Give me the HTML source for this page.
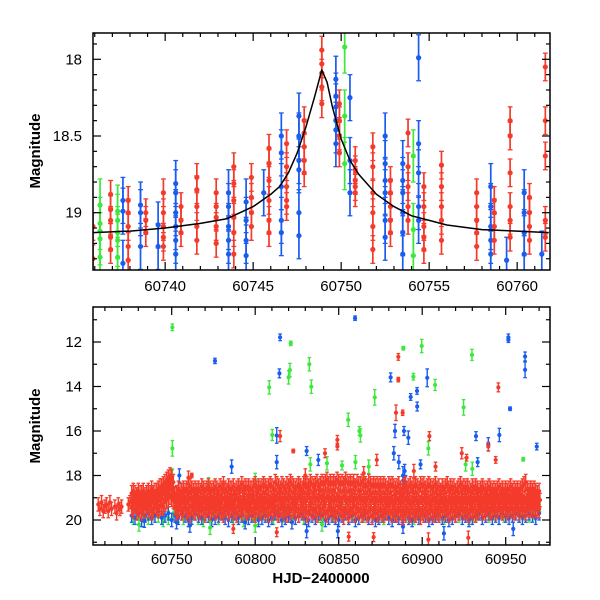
<!DOCTYPE html>
<html><head><meta charset="utf-8"><title>Light curve</title>
<style>
html,body{margin:0;padding:0;background:#fff;}
svg{display:block;font-family:"Liberation Sans",sans-serif;}
</style></head>
<body>
<svg id="chart" width="600" height="600" viewBox="0 0 600 600">
<defs>
<clipPath id="clipTop"><rect x="93" y="33" width="457" height="237"/></clipPath>
<clipPath id="clipBot"><rect x="93" y="307" width="457" height="238"/></clipPath>
</defs>
<g id="topMarks" clip-path="url(#clipTop)"></g>
<g id="botMarks" clip-path="url(#clipBot)"></g>
<g id="axes"></g>
<text x="0" y="0" transform="translate(40,151) rotate(-90)" text-anchor="middle" font-size="15" font-weight="bold">Magnitude</text>
<text x="0" y="0" transform="translate(40,426) rotate(-90)" text-anchor="middle" font-size="15" font-weight="bold">Magnitude</text>
<text x="321" y="583" text-anchor="middle" font-size="15" font-weight="bold">HJD−2400000</text>
</svg>
<script>
// ---------- TOP PANEL DATA (zoom on event) ----------
const topRedT = [60735.9,60736.9,60737.9,60738.9,60739.9,60740.9,60741.8,60742.9,60743.9,60744.9,60745.9,60746.9,60747.9,60748.9,60749.9,60750.8,60751.8,60752.8,60753.8,60754.7,60755.7,60757.7,60758.7,60759.6,60760.7,60761.6];
const topRedM = [[19.09,19.30],[18.88,18.98,19.05,19.16,19.24],[18.92,19.0,19.09,19.22,19.31],[19.0,19.05,19.13],[18.87,19.0,19.09,19.16,19.22],[18.96,19.05,19.13],[18.77,18.85,18.96,19.09,19.18],[18.87,18.96,19.03,19.09,19.2],[18.7,18.81,18.92,19.03,19.13,19.27],[18.77,18.9,19.0,19.09],[18.58,18.68,18.79,18.92,19.05,19.13],[18.55,18.7,18.83,18.92,18.96],[18.4,18.48,18.57,18.66,18.74],[17.94,18.03,18.09,18.18,18.29],[18.29,18.4,18.5,18.61],[18.66,18.72,18.79,18.83,18.87],[18.57,18.7,18.87,19.0,19.09,19.24],[18.79,18.87,18.96,19.05,19.13],[18.48,18.7,18.83,18.96,19.05],[18.83,18.96,19.09,19.16,19.24],[18.69,18.83,18.96,19.05,19.18],[18.87,18.96,19.05,19.13,19.22],[18.92,19.0,19.09,19.18],[18.4,18.5,18.74,18.96,19.05,19.16],[18.9,19.0,19.09,19.18],[18.05,18.4,18.63,19.05,19.16]];
const topBlueT = [60737.6,60738.6,60739.6,60740.6,60743.6,60744.6,60745.6,60746.6,60747.6,60749.7,60750.5,60752.5,60753.5,60754.4,60758.5,60759.4,60760.4,60761.4];
const topBlueM = [[18.92,18.99,19.33],[18.95,19.0,19.22],[19.08,19.22],[18.81,18.87,19.0,19.09,19.18,19.27],[18.87,18.96,19.09,19.18,19.27],[18.93,19.05,19.18,19.28],[18.87],[18.5,18.61,18.83,19.05,19.13],[18.37,18.5,18.66,18.72,19.0,19.15],[18.13,18.24,18.31,18.4,18.46,18.55],[18.25,18.66,18.87],[18.5,18.68,18.79,18.87,19.05,19.16],[18.68,18.79,18.87,19.0,19.13,19.27],[17.99,18.55,18.74,18.96,19.05],[18.83,18.96,19.09,19.18,19.27],[19.31],[18.87,19.0,19.13,19.27],[19.27]];
const topGreenT = [60736.3,60737.3,60750.2,60754.1];
const topGreenM = [[18.95,19.07,19.12,19.17,19.29],[18.99,19.05,19.13,19.18,19.29],[17.92,18.37,18.68],[18.63,19.11,19.28]];
const topErr = [0.09,0.15,0.17]; // red, blue, green typical errors
const modelT = [60735.9,60738,60740,60742,60743.5,60745,60746,60746.5,60747,60747.5,60748,60748.5,60748.9,60749.2,60749.5,60750,60750.5,60751,60752,60753,60754,60755,60756,60758,60760,60761.8];
const modelM = [19.13,19.12,19.10,19.07,19.04,18.96,18.88,18.83,18.74,18.61,18.44,18.24,18.07,18.15,18.31,18.52,18.66,18.75,18.88,18.96,19.02,19.05,19.08,19.11,19.12,19.13];

// ---------- BOTTOM PANEL DATA (full season) ----------
const bandStart = 60726; // first night of dense red band, one night per entry
const redBandA = [18.8,18.7,18.8,18.9,18.7,18.8,18.8,18.7,18.9,18.8,18.7,18.8,18.6,18.8,18.7,18.7,18.6,18.5,18.5,18.4,18.3,18.2,18.1,18.0,18.1,18.3,18.9,18.8,18.6,18.7,18.7,18.6,18.7,18.6,18.7,18.5,18.6,18.7,18.6,18.7,18.6,18.7,18.5,18.6,18.7,18.6,18.5,18.6,18.7,18.6,18.5,18.6,18.7,18.5,18.6,18.4,18.6,18.7,18.5,18.6,18.6,18.5,18.7,18.6,18.5,18.6,18.4,18.6,18.5,18.6,18.5,18.6,18.6,18.5,18.4,18.6,18.5,18.6,18.5,18.4,18.5,18.6,18.5,18.4,18.5,18.6,18.3,18.4,18.5,18.6,18.4,18.5,18.6,18.4,18.5,18.3,18.4,18.5,18.6,18.5,18.4,18.5,18.6,18.4,18.5,18.4,18.5,18.3,18.4,18.5,18.4,18.3,18.5,18.4,18.3,18.4,18.3,18.2,18.4,18.3,18.4,18.3,18.4,18.2,18.3,18.4,18.3,18.4,18.2,18.3,18.4,18.3,18.4,18.3,18.5,18.3,18.4,18.4,18.3,18.5,18.4,18.5,18.3,18.4,18.5,18.4,18.5,18.4,18.5,18.4,18.5,18.4,18.5,18.6,18.4,18.5,18.4,18.5,18.6,18.5,18.4,18.6,18.7,18.5,18.4,18.6,18.5,18.4,18.6,18.5,18.4,18.5,18.6,18.4,18.5,18.4,18.6,18.5,18.4,18.5,18.6,18.5,18.4,18.6,18.5,18.7,18.5,18.6,18.5,18.4,18.6,18.5,18.6,18.5,18.7,18.6,18.5,18.4,18.6,18.5,18.6,18.5,18.6,18.7,18.5,18.6,18.5,18.6,18.7,18.6,18.5,18.6,18.7,18.6,18.5,18.6,18.7,18.6,18.7,18.6,18.5,18.7,18.6,18.7,18.6,18.7,18.6,18.5,18.7,18.6,18.7,18.6,18.7,18.6,18.5,18.4,18.3,18.6,18.7,18.6,18.7,18.6,18.7,18.8,18.7];
const redBandB = [19.4,19.5,19.3,19.6,19.4,19.5,19.6,19.4,19.5,19.3,19.5,19.4,19.6,19.5,19.3,19.4,19.5,19.4,19.3,19.4,19.2,19.1,19.0,18.9,19.0,19.1,19.4,19.6,19.5,19.4,19.6,19.5,19.4,19.6,19.5,19.7,19.4,19.5,19.6,19.4,19.5,19.6,19.4,19.5,19.7,19.5,19.4,19.6,19.5,19.4,19.6,19.5,19.4,19.6,19.5,19.7,19.5,19.4,19.6,19.5,19.4,19.6,19.5,19.7,19.4,19.5,19.6,19.4,19.5,19.6,19.5,19.4,19.6,19.5,19.7,19.5,19.4,19.6,19.5,19.4,19.6,19.5,19.7,19.4,19.6,19.5,19.4,19.6,19.7,19.5,19.4,19.6,19.5,19.7,19.4,19.6,19.5,19.4,19.6,19.5,19.7,19.5,19.4,19.6,19.5,19.7,19.6,19.4,19.5,19.6,19.5,19.7,19.4,19.6,19.5,19.4,19.6,19.7,19.5,19.4,19.6,19.5,19.7,19.6,19.4,19.5,19.6,19.8,19.5,19.6,19.7,19.5,19.6,19.4,19.7,19.5,19.6,19.5,19.7,19.6,19.5,19.7,19.6,19.5,19.8,19.6,19.5,19.7,19.6,19.5,19.6,19.7,19.5,19.6,19.4,19.6,19.7,19.5,19.6,19.7,19.5,19.6,19.8,19.6,19.7,19.5,19.6,19.7,19.5,19.6,19.7,19.6,19.5,19.8,19.6,19.7,19.5,19.6,19.7,19.5,19.6,19.7,19.5,19.6,19.7,19.5,19.6,19.4,19.6,19.5,19.7,19.6,19.5,19.6,19.7,19.5,19.6,19.4,19.5,19.6,19.5,19.6,19.7,19.5,19.6,19.5,19.7,19.6,19.5,19.4,19.6,19.5,19.6,19.4,19.5,19.6,19.5,19.4,19.6,19.5,19.4,19.5,19.6,19.5,19.4,19.6,19.5,19.4,19.5,19.6,19.5,19.4,19.6,19.5,19.4,19.5,19.6,19.4,19.5,19.4,19.5,19.4,19.5,19.4,19.5];
const redBandC = [19.1,19.0,19.2,19.1,19.0,19.1,19.2,19.0,19.1,19.2,19.0,19.1,19.0,19.2,19.1,19.0,18.9,18.9,18.8,18.8,18.7,18.6,18.5,18.4,18.6,18.8,19.2,19.1,19.0,19.1,19.0,19.1,19.2,19.0,19.1,19.0,19.2,19.1,19.0,19.1,19.2,19.0,19.1,19.0,19.2,19.1,19.0,19.1,19.2,19.0,19.1,19.0,19.2,19.1,19.0,19.1,19.2,19.0,19.1,19.0,19.2,19.1,19.0,19.1,19.0,19.2,19.1,19.0,19.1,19.2,19.0,19.1,19.0,19.2,19.1,19.0,19.1,19.2,19.0,19.1,19.0,19.1,19.2,19.0,19.1,19.0,18.9,19.1,19.0,19.1,19.0,19.1,19.0,19.1,18.9,19.0,19.1,19.0,19.1,19.0,18.9,19.0,19.1,19.0,19.1,18.9,19.0,19.1,19.0,18.9,19.0,19.1,18.9,19.0,18.9,19.1,19.0,18.9,19.0,19.1,18.9,19.0,19.1,18.9,19.0,19.1,19.0,18.9,19.0,19.1,19.0,18.9,19.1,19.0,19.1,19.0,18.9,19.0,19.1,19.0,19.1,19.0,18.9,19.1,19.0,19.1,19.0,19.1,18.9,19.0,19.1,19.0,19.1,19.0,19.1,19.0,19.2,19.1,19.0,19.1,19.0,19.1,19.2,19.0,19.1,19.0,19.1,19.2,19.0,19.1,19.0,19.1,19.2,19.0,19.1,19.0,19.1,19.0,19.2,19.1,19.0,19.1,19.0,19.2,19.1,19.0,19.1,19.0,19.1,19.2,19.0,19.1,19.0,19.1,19.2,19.0,19.1,19.0,19.1,19.0,19.1,19.0,19.2,19.1,19.0,19.1,19.0,19.1,19.2,19.0,19.1,19.0,19.1,19.2,19.0,19.1,19.0,19.1,19.0,19.1,19.2,19.0,19.1,19.0,19.1,19.0,19.1,19.2,19.0,19.1,19.0,19.1,19.0,19.1,19.2,19.0,19.1,19.0,19.1,19.0,19.1,19.0,19.1,19.0,19.1];
const blueBandStart = 60726; // every 2 nights
const blueBand = [19.8,19.9,19.7,20.0,19.8,19.7,19.9,19.8,19.6,19.9,19.8,19.7,20.0,19.8,19.9,19.7,19.8,20.0,19.9,19.7,19.8,19.9,19.7,19.8,20.0,19.9,19.8,19.7,19.9,20.0,19.8,19.7,19.9,19.8,20.1,19.9,19.8,19.7,20.0,19.9,19.8,20.0,19.9,19.7,19.8,20.0,19.9,19.8,20.1,19.9,19.8,19.7,19.9,20.0,19.8,19.9,19.7,19.8,20.0,19.9,19.8,19.9,20.0,19.8,19.7,19.9,19.8,20.0,19.9,19.8,19.7,19.9,19.8,20.0,19.9,19.8,19.7,19.9,20.0,19.8,19.9,19.8,19.7,19.9,20.0,19.8,19.9,19.7,19.8,20.0,19.9,19.8,19.7,19.9,19.8,20.0,19.9,19.8,19.7,19.9,19.8,20.0,19.9,19.8,19.7,19.9,19.8,19.7,19.9,19.8,19.9,19.7,19.8,19.9,19.8,19.7,19.8,19.9,19.8,19.7,19.8,19.9,19.7];
const greenBandStart = 60727; // every 3 nights
const greenBand = [19.9,19.7,19.8,19.9,19.7,19.8,20.0,19.9,19.7,19.8,19.9,19.8,19.7,19.9,20.0,19.8,19.7,19.9,19.8,19.7,19.9,19.8,20.0,19.7,19.8,19.9,19.7,19.8,19.9,19.7,19.8,19.6,19.7,19.8,19.9,19.7,19.6,19.8,19.7,19.9,19.8,19.7,19.6,19.8,19.7,19.9,19.8,19.6,19.7,19.8,19.9,19.7,19.8,19.6,19.7,19.8,19.9,19.7,19.8,19.6,19.7,19.8,19.9,19.7,19.6,19.8,19.7,19.9,19.8,19.7,19.6,19.8,19.7,19.9,19.8,19.7,19.6,19.8,19.7,19.8,19.7,19.6];
// individual points (early season + outliers)
const botRedT = [60706,60707,60708,60709,60710,60711,60712,60713,60714,60716,60717,60718,60719,60720,60724,60725,60885.7,60885.7,60884.3,60888.3,60945.6,60814.9,60822.8,60849.2,60849.2,60841.8,60904.3,60923.7,60939.6,60944,60926.6,60872.8,60762,60908,60812.9,60903.7,60927.6,60870.9,60856,60786.9,60830,60865,60895,60760];
const botRedM = [19.3,19.5,19.2,19.6,19.4,19.3,19.6,19.2,19.5,19.4,19.7,19.3,19.5,19.4,19.3,19.2,12.67,13.69,15.18,15.18,14.04,16.23,16.9,16.4,16.7,17.0,16.23,17.0,16.7,17.3,17.2,17.3,18.0,17.6,20.55,20.88,20.8,20.77,20.75,20.4,18.0,17.9,17.8,18.1];
const botRedE = [0.3,0.3,0.3,0.3,0.3,0.3,0.3,0.3,0.3,0.3,0.3,0.3,0.3,0.3,0.3,0.3,0.15,0.1,0.35,0.12,0.2,0.25,0.08,0.2,0.15,0.2,0.2,0.25,0.2,0.15,0.15,0.25,0.1,0.2,0.2,0.3,0.3,0.2,0.2,0.2,0.3,0.3,0.3,0.3];
const botBlueT = [60775.9,60814.9,60814.5,60812.9,60859.8,60881.1,60903,60896.9,60893.1,60897,60951.6,60951.6,60961.6,60961.6,60952.6,60946.2,60932.2,60968.6,60830.8,60837.8,60883.7,60889.1,60891.7,60883,60886,60899,60939.6,60933.2,60754.6,60785.9,60812.9,60888.5,60888.5,60888.5,60888.5,60888.5,60733.6,60752.9,60760.9,60830.8,60849.5,60913,60954.5,60889.5,60890];
const botBlueM = [12.85,11.79,13.41,16.2,10.93,13.59,13.61,14.2,14.47,14.9,11.79,11.9,12.65,13.25,15.0,16.18,16.23,16.7,16.9,17.3,16.0,16.0,16.3,17.0,17.4,17.5,16.6,17.4,18.0,17.6,17.4,18.0,18.6,19.2,19.8,20.3,20.03,20.1,20.25,20.5,20.5,20.6,20.4,17.8,18.3];
const botBlueE = [0.12,0.15,0.2,0.35,0.1,0.2,0.4,0.15,0.15,0.2,0.15,0.12,0.2,0.35,0.08,0.3,0.2,0.15,0.2,0.25,0.3,0.2,0.3,0.3,0.3,0.2,0.3,0.2,0.3,0.3,0.3,0.4,0.4,0.4,0.4,0.3,0.3,0.3,0.3,0.3,0.3,0.3,0.3,0.3,0.3];
const botGreenT = [60750.4,60750.4,60808.4,60810.2,60821.3,60820.8,60820,60832.4,60833.6,60888.7,60899.7,60894.7,60907.7,60871.6,60855.7,60862.4,60863,60929.8,60924.8,60903.7,60960.5,60852,60860,60868,60833,60843,60926,60930,60730.4,60773,60800,60840,60750.4,60772,60800];
const botGreenM = [11.34,16.78,14.04,16.18,12.06,13.26,13.59,13.0,14.01,12.28,12.18,13.56,13.93,14.49,15.5,16.0,16.2,12.58,14.94,16.78,17.27,17.55,17.4,17.6,17.5,17.45,17.5,17.7,20.2,20.35,20.25,20.2,18.0,18.4,18.2];
const botGreenE = [0.15,0.35,0.3,0.25,0.1,0.3,0.3,0.3,0.3,0.08,0.3,0.15,0.25,0.35,0.3,0.2,0.3,0.25,0.35,0.3,0.08,0.2,0.3,0.3,0.3,0.3,0.3,0.3,0.3,0.3,0.3,0.3,0.3,0.3,0.3];

// ---------- AXIS FUNCTIONS ----------
const xT = t => 93 + (t - 60735.9) * 17.6;
const yT = m => 59.3 + (m - 18) * 153.4;
const xB = t => 171.7 + (t - 60750) * 1.67;
const yB = m => 342 + (m - 12) * 22.25;

const NS = 'http://www.w3.org/2000/svg';
const COL = {red:'#f43b2b', blue:'#1a5cf0', green:'#3de83d'};

function mk(tag, attrs, parent){
  const el = document.createElementNS(NS, tag);
  for (const k in attrs) el.setAttribute(k, attrs[k]);
  parent.appendChild(el);
  return el;
}

function errPoint(parent, px, py, pyLo, pyHi, color, r, cap, sw, name){
  const g = document.createElementNS(NS, 'g');
  
  
  mk('line', {x1:px, x2:px, y1:pyLo, y2:pyHi, stroke:color, 'stroke-width':sw}, g);
  mk('line', {x1:px-cap, x2:px+cap, y1:pyLo, y2:pyLo, stroke:color, 'stroke-width':1.3}, g);
  mk('line', {x1:px-cap, x2:px+cap, y1:pyHi, y2:pyHi, stroke:color, 'stroke-width':1.3}, g);
  mk('circle', {cx:px, cy:py, r:r, fill:color}, g);
  parent.appendChild(g);
}

// ---------- TOP PANEL MARKS ----------
const topG = document.getElementById('topMarks');
function drawTop(Ts, Ms, err, color, name){
  Ts.forEach((t, i) => {
    Ms[i].forEach(m => {
      errPoint(topG, xT(t), yT(m), yT(m - err), yT(m + err), color, 2.6, 2.4, 1.7, name);
    });
  });
}
drawTop(topGreenT, topGreenM, topErr[2], COL.green, 'top-green-point');
drawTop(topBlueT, topBlueM, topErr[1], COL.blue, 'top-blue-point');
drawTop(topRedT, topRedM, topErr[0], COL.red, 'top-red-point');
const modelPath = document.createElementNS(NS, 'polyline');


modelPath.setAttribute('points', modelT.map((t, i) => xT(t).toFixed(1) + ',' + yT(modelM[i]).toFixed(1)).join(' '));
modelPath.setAttribute('fill', 'none');
modelPath.setAttribute('stroke', '#000');
modelPath.setAttribute('stroke-width', '1.5');
modelPath.setAttribute('stroke-linejoin', 'round');
topG.appendChild(modelPath);

// ---------- BOTTOM PANEL MARKS ----------
const botG = document.getElementById('botMarks');
function bp(t, m, e, color, name){
  errPoint(botG, xB(t), yB(m), yB(m - e), yB(m + e), color, 2.1, 1.8, 1.4, name);
}
greenBand.forEach((m, i) => bp(greenBandStart + 3 * i, m, 0.3, COL.green, 'green-band-point'));
blueBand.forEach((m, i) => bp(blueBandStart + 2 * i, m, 0.3, COL.blue, 'blue-band-point'));
botGreenT.forEach((t, i) => bp(t, botGreenM[i], botGreenE[i], COL.green, 'green-point'));
botBlueT.forEach((t, i) => bp(t, botBlueM[i], botBlueE[i], COL.blue, 'blue-point'));
redBandB.forEach((m, i) => bp(bandStart + i, m, 0.4, COL.red, 'red-band-point'));
redBandA.forEach((m, i) => bp(bandStart + i, m, 0.35, COL.red, 'red-band-point'));
redBandC.forEach((m, i) => bp(bandStart + i + 0.5, m, 0.3, COL.red, 'red-band-point'));
botRedT.forEach((t, i) => bp(t, botRedM[i], botRedE[i], COL.red, 'red-point'));

// ---------- AXES ----------
const ax = document.getElementById('axes');
function frame(x0, y0, x1, y1, name){
  const r = document.createElementNS(NS, 'rect');
  
  
  r.setAttribute('x', x0); r.setAttribute('y', y0);
  r.setAttribute('width', x1 - x0); r.setAttribute('height', y1 - y0);
  r.setAttribute('fill', 'none'); r.setAttribute('stroke', '#000'); r.setAttribute('stroke-width', '1.5');
  ax.appendChild(r);
}
function tick(x1, y1, x2, y2){
  mk('line', {x1, y1, x2, y2, stroke:'#000', 'stroke-width':1.2}, ax);
}
function label(x, y, txt, anchor, name){
  const t = document.createElementNS(NS, 'text');
  
  
  t.setAttribute('x', x); t.setAttribute('y', y);
  t.setAttribute('text-anchor', anchor);
  t.setAttribute('font-size', '15');
  t.textContent = txt;
  ax.appendChild(t);
}
frame(93, 33, 550, 270, 'top-panel-frame');
frame(93, 307, 550, 545, 'bottom-panel-frame');

// top x ticks
const topXMajor = [60740, 60745, 60750, 60755, 60760];
for (let d = 60736; d <= 60761; d++){
  const x = xT(d), major = topXMajor.includes(d), L = major ? 8 : 4;
  tick(x, 270, x, 270 - L); tick(x, 33, x, 33 + L);
}
topXMajor.forEach(d => label(xT(d), 291, String(d), 'middle', 'top-x-tick-label'));
// top y ticks
const topYMajor = ['18', '18.5', '19'];
for (let k = 179; k <= 193; k++){
  const m = k / 10, y = yT(m), major = (k % 5 === 0), L = major ? 8 : 4;
  tick(93, y, 93 + L, y); tick(550, y, 550 - L, y);
}
topYMajor.forEach(s => label(82, yT(parseFloat(s)) + 5, s, 'end', 'top-y-tick-label'));

// bottom x ticks
const botXMajor = [60750, 60800, 60850, 60900, 60950];
for (let d = 60710; d <= 60970; d += 10){
  const x = xB(d), major = botXMajor.includes(d), L = major ? 8 : 4;
  tick(x, 545, x, 545 - L); tick(x, 307, x, 307 + L);
}
botXMajor.forEach(d => label(xB(d), 564, String(d), 'middle', 'bottom-x-tick-label'));
// bottom y ticks
const botYMajor = [12, 14, 16, 18, 20];
for (let m = 11; m <= 21; m++){
  const y = yB(m), major = botYMajor.includes(m), L = major ? 8 : 4;
  tick(93, y, 93 + L, y); tick(550, y, 550 - L, y);
}
botYMajor.forEach(m => label(82, yB(m) + 5, String(m), 'end', 'bottom-y-tick-label'));
</script>
</body></html>
